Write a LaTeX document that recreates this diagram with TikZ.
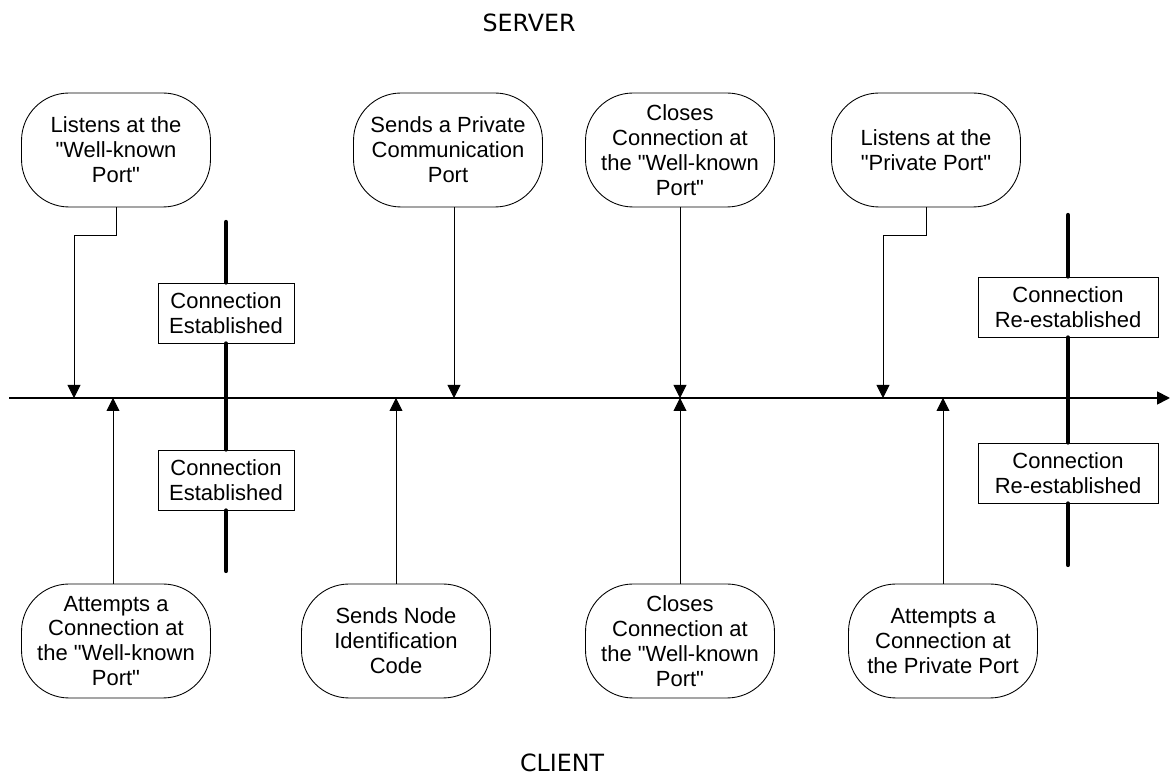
\documentclass[tikz,border=0pt]{standalone}
\usepackage{fontspec}
\setmainfont{Liberation Sans}
\newfontfamily\rotulofont{DejaVu Sans}
\usetikzlibrary{arrows.meta}
\newcommand\cq{\textquotedbl}

\tikzset{
  evento/.style={draw, line width=0.5pt, rounded corners=0.95cm, minimum width=3.78cm, minimum height=2.28cm,
    inner sep=0pt, align=center, font=\fontsize{12.5}{14.2}\selectfont},
  estado/.style={draw, line width=0.5pt, fill=white, minimum height=1.2cm, inner sep=0pt,
    align=center, font=\fontsize{12.5}{14.2}\selectfont},
  flecha/.style={-{Triangle[length=2.6mm,width=2.6mm]}, line width=0.5pt},
  barra/.style={line width=2.4pt, line cap=round},
  rotulo/.style={anchor=base, font=\rotulofont\fontsize{13.5}{16}\selectfont},
}

\begin{document}
\begin{tikzpicture}[x=0.02cm,y=-0.02cm]
\useasboundingbox (0,0) rectangle (1171,776);

% Eje
\coordinate (ini) at (9,398);
\coordinate (fin) at (1170,398);
\draw[flecha, line width=1pt] (ini) -- (fin);

% Servidor
\node[rotulo] (server) at (529,32) {SERVER};
\node[evento] (srv1) at (116,150) {Listens at the\\\cq Well-known\\Port\cq};
\node[evento] (srv2) at (448,150) {Sends a Private\\Communication\\Port};
\node[evento] (srv3) at (680,150) {Closes\\Connection at\\the \cq Well-known\\Port\cq};
\node[evento] (srv4) at (926,150) {Listens at the\\\cq Private Port\cq};

% Cliente
\node[rotulo] (client) at (562,772) {CLIENT};
\node[evento] (cli1) at (116,641) {Attempts a\\Connection at\\the \cq Well-known\\Port\cq};
\node[evento] (cli2) at (396,641) {Sends Node\\Identification\\Code};
\node[evento] (cli3) at (680,641) {Closes\\Connection at\\the \cq Well-known\\Port\cq};
\node[evento] (cli4) at (943,641) {Attempts a\\Connection at\\the Private Port};

% Puntos sobre el eje
\coordinate (s1) at (74,398);
\coordinate (s2) at (454,398);
\coordinate (s3) at (680,398);
\coordinate (s4) at (883,398);
\coordinate (c1) at (113,398);
\coordinate (c2) at (396,398);
\coordinate (c3) at (680,398);
\coordinate (c4) at (943,398);

\draw[flecha] (srv1.south) -- ++(0,28) -| (s1);
\draw[flecha] (srv2.south -| s2) -- (s2);
\draw[flecha] (srv3.south) -- (s3);
\draw[flecha] (srv4.south) -- ++(0,28) -| (s4);

\draw[flecha] (cli1.north -| c1) -- (c1);
\draw[flecha] (cli2.north) -- (c2);
\draw[flecha] (cli3.north) -- (c3);
\draw[flecha] (cli4.north) -- (c4);

% Conexiones
\node[estado, minimum width=2.72cm] (est1) at (226,313) {Connection\\Established};
\node[estado, minimum width=2.72cm] (est2) at (226,480) {Connection\\Established};
\node[estado, minimum width=3.6cm] (rest1) at (1068,307) {Connection\\Re-established};
\node[estado, minimum width=3.6cm] (rest2) at (1068,473) {Connection\\Re-established};

\coordinate (b1a) at (226,222);
\coordinate (b1b) at (226,571);
\coordinate (b2a) at (1068,215);
\coordinate (b2b) at (1068,565);
\draw[barra] (b1a) -- (est1.north) (est1.south) -- (est2.north) (est2.south) -- (b1b);
\draw[barra] (b2a) -- (rest1.north) (rest1.south) -- (rest2.north) (rest2.south) -- (b2b);

\end{tikzpicture}
\end{document}
